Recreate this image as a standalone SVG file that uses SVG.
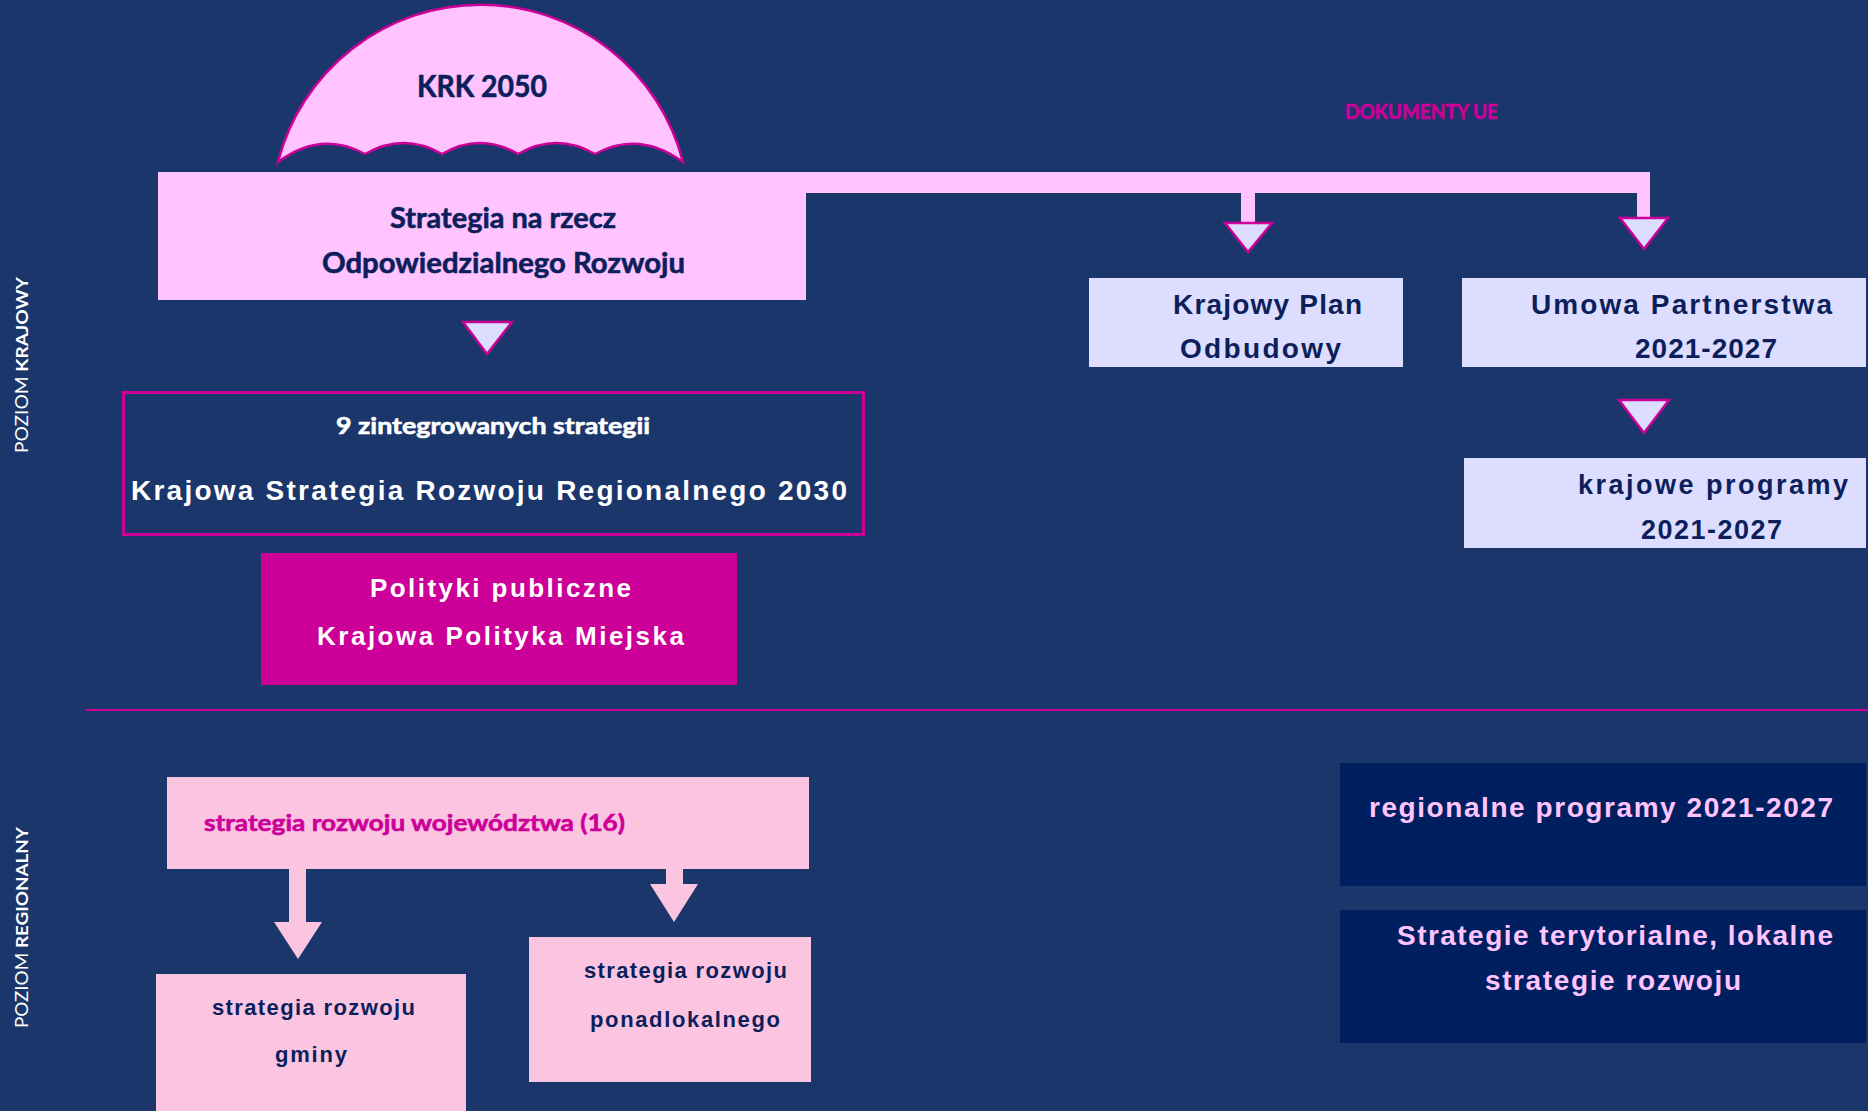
<svg xmlns="http://www.w3.org/2000/svg" width="1868" height="1111" viewBox="0 0 1868 1111">
<style>
.cal{font-family:Lato,"Open Sans","Noto Sans",sans-serif;font-weight:700;stroke-width:0.6}
.ari{font-family:"Liberation Sans",Arial,sans-serif;font-weight:700}
.dark{fill:#0C1F5B}
.cal.dark{stroke:#0C1F5B}
.white{fill:#FFFFFF}
.cal.white{stroke:#FFFFFF}
.pink{fill:#FFC4FF}
.mag{fill:#CC0099}
.cal.mag{stroke:#CC0099}
.tri{fill:#DDDDFF;stroke:#CC0099;stroke-width:2.5;stroke-linejoin:miter}
.lav{fill:#DDDDFF}
.navy{fill:#001F5E}
.rose{fill:#FBC4E0}
</style>
<rect x="0" y="0" width="1868" height="1111" fill="#1B366B"/>

<g id="label-krajowy">
<text class="white" font-family="Lato,'Open Sans',sans-serif" font-size="17" transform="translate(28,453) rotate(-90)" textLength="176" lengthAdjust="spacingAndGlyphs">POZIOM <tspan font-weight="700">KRAJOWY</tspan></text>
</g>
<g id="label-regionalny">
<text class="white" font-family="Lato,'Open Sans',sans-serif" font-size="17" transform="translate(28,1028) rotate(-90)" textLength="201" lengthAdjust="spacingAndGlyphs">POZIOM <tspan font-weight="700">REGIONALNY</tspan></text>
</g>

<g id="divider">
<line x1="86" y1="710" x2="1868" y2="710" stroke="#CC0099" stroke-width="2"/>
</g>

<g id="connectors">
<path class="pink" d="M800,172 H1650 V218 H1637 V193 H1255 V224 H1241 V193 H800 Z"/>
<polygon class="tri" points="1225,223 1272,223 1248,252"/>
<polygon class="tri" points="1620,218 1668,218 1644,249"/>
<polygon class="tri" points="463,322 512,322 487,354"/>
<polygon class="tri" points="1619,400 1669,400 1644,433"/>
<path class="rose" d="M289,869 H306 V922 H322 L298,959 L274,922 H289 Z"/>
<path class="rose" d="M666,869 H683 V884 H698 L674,922 L650,884 H666 Z"/>
</g>

<g id="krk2050">
<path d="M278,162 A209,209 0 0 1 683,162 Q639,130 595,154 Q556.5,132 518,154 Q480,132 442,154 Q403.5,132 365,154 Q321,130 278,162 Z" fill="#FFC4FF" stroke="#CC0099" stroke-width="2.5" stroke-linejoin="miter"/>
<text class="cal dark" x="417" y="97" font-size="30" textLength="130" lengthAdjust="spacingAndGlyphs">KRK 2050</text>
</g>

<g id="strategia-sor">
<rect x="158" y="172" width="648" height="128" fill="#FFC4FF"/>
<text class="cal dark" x="390" y="228" font-size="29" textLength="226" lengthAdjust="spacingAndGlyphs">Strategia na rzecz</text>
<text class="cal dark" x="322" y="273" font-size="29" textLength="363" lengthAdjust="spacingAndGlyphs">Odpowiedzialnego Rozwoju</text>
</g>

<g id="dokumenty-ue">
<text class="cal mag" x="1345" y="119" font-size="20" textLength="153" lengthAdjust="spacingAndGlyphs">DOKUMENTY UE</text>
</g>

<g id="ksrr">
<rect x="123.5" y="392.5" width="740" height="142" fill="none" stroke="#CC0099" stroke-width="3"/>
<text class="cal white" x="336" y="434" font-size="23" textLength="314" lengthAdjust="spacingAndGlyphs">9 zintegrowanych strategii</text>
<text class="ari white" x="131" y="500" font-size="28" textLength="716" lengthAdjust="spacing">Krajowa Strategia Rozwoju Regionalnego 2030</text>
</g>

<g id="polityki">
<rect x="261" y="553" width="476" height="132" fill="#CC0099"/>
<text class="ari white" x="370" y="597" font-size="26" textLength="261" lengthAdjust="spacing">Polityki publiczne</text>
<text class="ari white" x="317" y="645" font-size="26" textLength="367" lengthAdjust="spacing">Krajowa Polityka Miejska</text>
</g>

<g id="kpo">
<rect class="lav" x="1089" y="278" width="314" height="89"/>
<text class="ari dark" x="1173" y="314" font-size="28" textLength="189" lengthAdjust="spacing">Krajowy Plan</text>
<text class="ari dark" x="1180" y="358" font-size="28" textLength="161" lengthAdjust="spacing">Odbudowy</text>
</g>

<g id="umowa-partnerstwa">
<rect class="lav" x="1462" y="278" width="404" height="89"/>
<text class="ari dark" x="1531" y="314" font-size="28" textLength="301" lengthAdjust="spacing">Umowa Partnerstwa</text>
<text class="ari dark" x="1635" y="358" font-size="28" textLength="142" lengthAdjust="spacing">2021-2027</text>
</g>

<g id="krajowe-programy">
<rect class="lav" x="1464" y="458" width="402" height="90"/>
<text class="ari dark" x="1578" y="494" font-size="27" textLength="270" lengthAdjust="spacing">krajowe programy</text>
<text class="ari dark" x="1641" y="539" font-size="27" textLength="141" lengthAdjust="spacing">2021-2027</text>
</g>

<g id="srw">
<rect class="rose" x="167" y="777" width="642" height="92"/>
<text class="cal mag" x="204" y="831" font-size="23" textLength="421" lengthAdjust="spacingAndGlyphs">strategia rozwoju województwa (16)</text>
</g>

<g id="srg">
<rect class="rose" x="156" y="974" width="310" height="137"/>
<text class="ari dark" x="212" y="1015" font-size="22" textLength="203" lengthAdjust="spacing">strategia rozwoju</text>
<text class="ari dark" x="275" y="1062" font-size="22" textLength="72" lengthAdjust="spacing">gminy</text>
</g>

<g id="srp">
<rect class="rose" x="529" y="937" width="282" height="145"/>
<text class="ari dark" x="584" y="978" font-size="22" textLength="203" lengthAdjust="spacing">strategia rozwoju</text>
<text class="ari dark" x="590" y="1027" font-size="22" textLength="190" lengthAdjust="spacing">ponadlokalnego</text>
</g>

<g id="regionalne-programy">
<rect class="navy" x="1340" y="763" width="526" height="123"/>
<text class="ari pink" x="1369" y="817" font-size="28" textLength="464" lengthAdjust="spacing">regionalne programy 2021-2027</text>
</g>

<g id="strategie-terytorialne">
<rect class="navy" x="1340" y="910" width="526" height="133"/>
<text class="ari pink" x="1397" y="945" font-size="28" textLength="436" lengthAdjust="spacing">Strategie terytorialne, lokalne</text>
<text class="ari pink" x="1485" y="990" font-size="28" textLength="256" lengthAdjust="spacing">strategie rozwoju</text>
</g>
</svg>
